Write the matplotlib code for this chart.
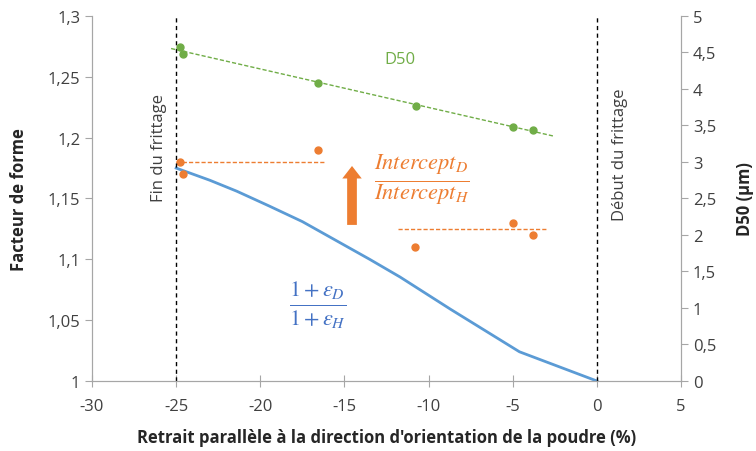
import matplotlib.pyplot as plt
import numpy as np

plt.rcParams['font.family'] = ['Open Sans', 'DejaVu Sans']
plt.rcParams['mathtext.fontset'] = 'stix'
plt.rcParams['axes.unicode_minus'] = False

# courbe 1+eps_D / 1+eps_H
retrait = [-25, -23, -21.4, -19.5, -17.5, -15.5, -13.5, -11.7, -8.7, -4.6, 0]
ratio = [1.175, 1.165, 1.156, 1.144, 1.131, 1.1155, 1.100, 1.0855, 1.059, 1.024, 1.0]

# facteur de forme (intercepts)
x_int = [-24.8, -24.6, -16.6, -10.8, -5.0, -3.8]
y_int = [1.18, 1.17, 1.19, 1.11, 1.13, 1.12]
moy_x = [[-25, -16.2], [-11.8, -3.0]]
moy_y = [1.18, 1.125]

# D50
x_d50 = [-24.8, -24.6, -16.6, -10.75, -5.0, -3.8]
d50 = [4.58, 4.48, 4.08, 3.77, 3.48, 3.44]

orange = '#ED7D31'
green = '#70AD47'
blue = '#5B9BD5'
gris = '#A6A6A6'

fig = plt.figure(figsize=(7.56, 4.52), dpi=100)
ax = fig.add_axes([0.1217, 0.1549, 0.7791, 0.8075])
ax2 = ax.twinx()

ax.plot(retrait, ratio, color=blue, lw=2)
ax.plot(x_int, y_int, 'o', color=orange, ms=5)
for xx, yy in zip(moy_x, moy_y):
    ax.plot(xx, [yy, yy], '--', color=orange, lw=1, dashes=(3, 1.5))

ax.axvline(-25, color='black', ls='--', lw=1, dashes=(3, 2.5))
ax.axvline(0, color='black', ls='--', lw=1, dashes=(3, 2.5))

ax.annotate('', xy=(-14.55, 1.179), xytext=(-14.55, 1.126),
            arrowprops=dict(arrowstyle='simple,head_length=0.9,head_width=1.4,tail_width=0.7',
                            color=orange, lw=0))

ax.text(-26.0, 1.192, 'Fin du frittage', rotation=90, ha='center', va='center',
        fontsize=12, color='#404040')
ax.text(1.4, 1.187, 'Début du frittage', rotation=90, ha='center', va='center',
        fontsize=12, color='#404040')
ax.text(-11.7, 1.265, 'D50', ha='center', va='center', fontsize=12, color=green)
ax.text(-10.4, 1.166, r'$\frac{Intercept_D}{Intercept_H}$', ha='center', va='center',
        fontsize=23, color=orange)
ax.text(-16.6, 1.063, r'$\frac{1+\varepsilon_D}{1+\varepsilon_H}$', ha='center', va='center',
        fontsize=23, color='#4472C4')

ax2.plot(x_d50, d50, 'o', color=green, ms=5)
z = np.polyfit(x_d50, d50, 1)
p = np.poly1d(z)
xt = np.array([-25.3, -2.6])
ax2.plot(xt, p(xt), '--', color=green, lw=1, dashes=(3, 1.5))

ax.set_xlim(-30, 5)
ax.set_ylim(1, 1.3)
ax2.set_ylim(0, 5)
ax.set_xticks(np.arange(-30, 6, 5))
ax.set_yticks(np.arange(1, 1.301, 0.05))
ax.set_yticklabels(['1', '1,05', '1,1', '1,15', '1,2', '1,25', '1,3'])
ax2.set_yticks(np.arange(0, 5.01, 0.5))
ax2.set_yticklabels(['0', '0,5', '1', '1,5', '2', '2,5', '3', '3,5', '4', '4,5', '5'])

for a in (ax, ax2):
    a.spines['top'].set_visible(False)
    for s in ('left', 'right', 'bottom'):
        a.spines[s].set_color(gris)
    a.tick_params(colors=gris, labelcolor='#404040', labelsize=12, length=5)
ax.tick_params(axis='x', direction='inout', length=8, pad=8)

ax.set_xlabel("Retrait parallèle à la direction d'orientation de la poudre (%)",
              fontsize=12, fontweight='bold', color='#262626', labelpad=10)
ax.set_ylabel('Facteur de forme', fontsize=12, fontweight='bold', color='#262626', labelpad=14)
ax2.set_ylabel('D50 (µm)', fontsize=12, fontweight='bold', color='#262626', labelpad=14)

plt.savefig('out.png', dpi=100)
